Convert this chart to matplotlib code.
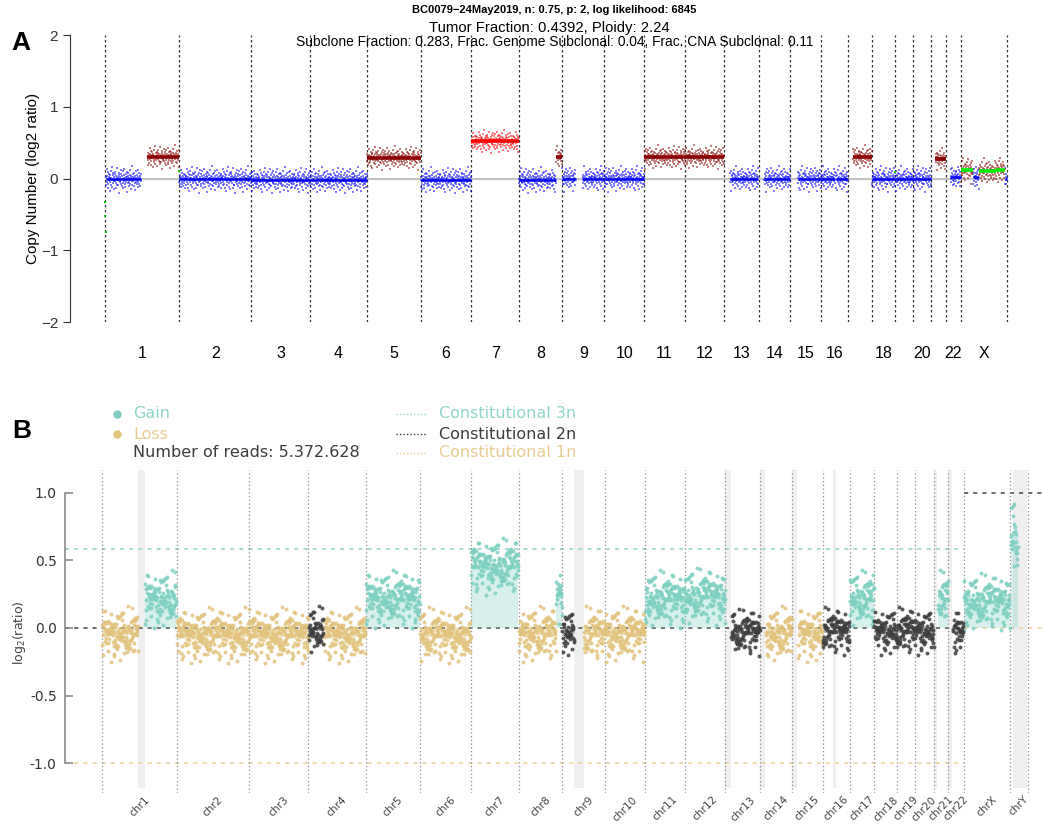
import numpy as np
import matplotlib.pyplot as plt

# chromosome sizes in Mb (hg19)
chrom_names = [str(i) for i in range(1, 23)] + ['X', 'Y']
chrom_len = [249.3, 243.2, 198.0, 191.2, 180.9, 171.1, 159.1, 146.4, 141.2, 135.5,
             135.0, 133.9, 115.2, 107.3, 102.5, 90.4, 81.2, 78.1, 59.1, 63.0,
             48.1, 51.3, 155.3, 59.4]

# residuals of the 1 Mb bins around their segment mean (in sd units)
noise = [0.31, -1.12, 0.58, 1.74, -0.43, 0.05, -0.87, 1.21, -1.65, 0.39,
         0.92, -0.21, -2.08, 0.67, 0.14, -0.55, 1.48, -0.97, 0.26, -0.08,
         2.15, -1.34, 0.73, -0.62, 0.02, 1.06, -0.29, -1.81, 0.48, 0.85,
         -0.38, 1.33, -0.12, -0.74, 0.61, -1.49, 0.19, 1.92, -0.95, 0.34,
         -0.18, -1.07, 0.81, 0.11, -2.41, 1.15, -0.51, 0.44, -0.33, 1.62,
         -0.79, 0.07, 0.96, -1.23, 0.53, -0.04, 1.39, -0.66, -1.58, 0.22,
         0.69, -0.26, 1.87, -0.91, 0.12, -1.38, 0.47, 0.98, -0.58, -0.15,
         1.27, -2.22, 0.36, 0.59, -0.71, 1.03, -0.46, 0.17, -1.16, 0.78,
         -0.09, 1.56, -0.83, 0.28, -1.71, 0.64, 0.01, -0.36, 2.31, -1.02,
         0.42, -0.24, 0.88, -1.28, 0.13, 1.19, -0.68, -0.02, 0.55, -1.94,
         1.41, -0.41, 0.24, -0.89, 0.76, -0.11, 1.68, -1.45, 0.33, -0.57,
         0.09, 1.11, -0.77, -1.19, 0.51, 0.27, -0.31, 1.01, -0.64, 0.83,
         -1.52, 0.18, -0.03]

# panel A: ichorCNA segments (chrom, start Mb, end Mb, log2 ratio, call)
seg_a_chrom = ['1', '1', '2', '3', '4', '5', '6', '7', '8', '8', '9', '9', '10', '11', '12',
               '13', '14', '15', '16', '16', '17', '18', '19', '20', '21', '22',
               'X', 'X', 'X', 'X', 'X']
seg_a_start = [3, 143, 0, 0, 0, 0, 0, 0, 0, 125, 0, 68, 0, 0, 0,
               19, 19, 24, 0, 50, 17, 0, 0, 0, 14, 16,
               0, 40, 60, 118, 148]
seg_a_end = [121, 249, 243, 198, 191, 181, 171, 159, 125, 146, 45, 141, 135, 135, 134,
             115, 107, 102, 48, 90, 81, 78, 59, 63, 48, 51,
             40, 60, 118, 148, 155]
seg_a_level = [-0.01, 0.30, -0.01, -0.02, -0.02, 0.29, -0.02, 0.52, -0.02, 0.30, 0.0, 0.0, 0.0, 0.30, 0.30,
               0.0, 0.0, 0.0, 0.0, 0.0, 0.30, 0.0, 0.0, 0.0, 0.27, 0.02,
               0.12, 0.02, 0.10, 0.12, 0.0]
seg_a_call = ['neut', 'gain', 'neut', 'neut', 'neut', 'gain', 'neut', 'amp', 'neut', 'gain', 'neut', 'neut',
              'neut', 'gain', 'gain', 'neut', 'neut', 'neut', 'neut', 'neut', 'gain', 'neut', 'neut', 'neut',
              'gain', 'neut', 'sub', 'neut', 'sub', 'sub', 'neut']

# subclonal single bins
out_a_chrom = ['1', '1', '1', '1', '18']
out_a_pos = [0.5, 1.5, 2.5, 248.5, 77.5]
out_a_val = [-0.33, -0.52, -0.74, 0.10, 0.09]

# panel B: segments (chrom, start Mb, end Mb, log2 ratio, call)
seg_b_chrom = ['1', '1', '2', '3', '4', '4', '5', '6', '7', '8', '8', '9', '9', '10', '11', '12',
               '13', '14', '15', '16', '17', '18', '19', '20', '21', '22', 'X', 'Y']
seg_b_start = [0, 143, 0, 0, 0, 50, 0, 0, 0, 0, 125, 0, 71, 0, 0, 0,
               19, 19, 20, 0, 0, 0, 0, 0, 14, 16, 0, 2]
seg_b_end = [121, 249, 243, 198, 50, 191, 181, 171, 159, 125, 146, 39, 141, 135, 135, 134,
             115, 107, 102, 90, 81, 78, 59, 63, 48, 51, 155, 26]
seg_b_level = [-0.04, 0.22, -0.05, -0.05, -0.01, -0.05, 0.22, -0.05, 0.46, -0.04, 0.25, -0.03, -0.04,
               -0.04, 0.22, 0.24, -0.03, -0.04, -0.04, -0.02, 0.22, -0.02, -0.02, -0.02, 0.22, -0.03,
               0.20, 0.68]
seg_b_call = ['loss', 'gain', 'loss', 'loss', 'neut', 'loss', 'gain', 'loss', 'gain', 'loss', 'gain',
              'neut', 'loss', 'loss', 'gain', 'gain', 'neut', 'loss', 'loss', 'neut', 'gain', 'neut',
              'neut', 'neut', 'gain', 'neut', 'gain', 'gain']

# unmappable / heterochromatin blocks shown in panel B
gap_chrom = ['1', '9', '13', '14', '15', '16', '21', '22', 'Y']
gap_start = [121, 39, 0, 0, 0, 36, 0, 0, 10]
gap_end = [143, 71, 17, 17, 18, 46, 12, 14, 58]

offset = dict(zip(chrom_names, np.concatenate([[0], np.cumsum(chrom_len)[:-1]])))
mids = {c: offset[c] + l / 2 for c, l in zip(chrom_names, chrom_len)}
genome_a = sum(chrom_len[:23])
genome_b = sum(chrom_len)


def bins(chroms, starts, ends, levels, calls, sd, step, shift):
    xs, ys, cs = [], [], []
    k = 0
    for c, s, e, lv, cl in zip(chroms, starts, ends, levels, calls):
        for p in np.arange(s + 0.5, e, 1.0):
            xs.append(offset[c] + p)
            ys.append(lv + sd[cl] * noise[(k * step + shift) % len(noise)])
            cs.append(cl)
            k += 1
    return np.array(xs), np.array(ys), np.array(cs)


fig = plt.figure(figsize=(10.43, 8.26), dpi=100)
W, H = 1043, 826
arial = ['Liberation Sans', 'DejaVu Sans']

# ---------------- panel A ----------------
axA = fig.add_axes([70 / W, 1 - 322 / H, (1012 - 70) / W, 287 / H])
scale_a = (1007 - 105) / genome_a
axA.set_xlim(-35 / scale_a, (1012 - 105) / scale_a)
axA.set_ylim(-2, 2)

pt_col = {'neut': '#0000ff', 'gain': '#8b0000', 'amp': '#ff0000', 'sub': '#8b0000'}
ln_col = {'neut': '#0000ff', 'gain': '#8b0000', 'amp': '#ff0000', 'sub': '#00ee00'}
ln_w = {'neut': 1.8, 'gain': 2.6, 'amp': 2.6, 'sub': 2.6}
sd_a = {'neut': 0.078, 'gain': 0.07, 'amp': 0.07, 'sub': 0.08}

axA.hlines(0, 0, genome_a, color='#c4c4c4', lw=1.6, zorder=1)
bounds_a = [offset[c] for c in chrom_names[:23]] + [genome_a]
axA.vlines(bounds_a, -2, 2, color='#333333', lw=0.9, linestyles=(0, (2, 2)), zorder=1)

xa, ya, ca = bins(seg_a_chrom, seg_a_start, seg_a_end, seg_a_level, seg_a_call, sd_a, 1, 0)
for cl in ['neut', 'gain', 'amp', 'sub']:
    m = ca == cl
    axA.scatter(xa[m], ya[m], s=4, marker='s', color=pt_col[cl], alpha=0.5, lw=0, zorder=2)
ox = [offset[c] + p for c, p in zip(out_a_chrom, out_a_pos)]
axA.scatter(ox, out_a_val, s=4, marker='s', color='#00cc00', lw=0, zorder=3)
for c, s, e, lv, cl in zip(seg_a_chrom, seg_a_start, seg_a_end, seg_a_level, seg_a_call):
    axA.hlines(lv, offset[c] + s, offset[c] + e, color=ln_col[cl], lw=ln_w[cl], zorder=4)

for sp in ['top', 'right', 'bottom']:
    axA.spines[sp].set_visible(False)
axA.spines['left'].set_bounds(-2, 2)
axA.spines['left'].set_color('#333333')
axA.set_yticks([-2, -1, 0, 1, 2])
axA.tick_params(axis='y', length=5, colors='#333333', labelsize=11)
for t in axA.get_yticklabels():
    t.set_family(arial)
shown_a = [str(i) for i in range(1, 17)] + ['18', '20', '22', 'X']
axA.set_xticks([mids[c] for c in shown_a])
axA.set_xticklabels(shown_a, family=arial, fontsize=11.5)
axA.tick_params(axis='x', length=0, pad=17)

fig.text(33 / W, 1 - 178 / H, 'Copy Number (log2 ratio)', rotation=90, ha='center', va='center',
         family=arial, fontsize=11)
fig.text(554 / W, 1 - 10 / H, 'BC0079\u221224May2019, n: 0.75, p: 2, log likelihood: 6845',
         ha='center', va='center', family=arial, fontsize=8, fontweight='bold')
fig.text(549 / W, 1 - 28 / H, 'Tumor Fraction: 0.4392, Ploidy: 2.24',
         ha='center', va='center', family=arial, fontsize=10.7)
fig.text(555 / W, 1 - 42 / H,
         'Subclone Fraction: 0.283, Frac. Genome Subclonal: 0.04, Frac. CNA Subclonal: 0.11',
         ha='center', va='center', family=arial, fontsize=9.9)
fig.text(21 / W, 1 - 43 / H, 'A', ha='center', va='center', family=arial, fontsize=19, fontweight='bold')
fig.text(22 / W, 1 - 431 / H, 'B', ha='center', va='center', family=arial, fontsize=19, fontweight='bold')

# ---------------- panel B ----------------
axB = fig.add_axes([65 / W, 1 - 793 / H, (1043 - 65) / W, (793 - 470) / H])
scale_b = (1010 - 102) / genome_a
axB.set_xlim(-37 / scale_b, (1043 - 102) / scale_b)
axB.set_ylim(-1.222, 1.17)

teal, tan, dark = '#7dcfc1', '#e3c27d', '#3d3d3d'
pt_b = {'gain': teal, 'loss': tan, 'neut': dark}
seg_line_b = {'gain': '#bfe8e1', 'loss': '#f1e0bd', 'neut': '#a8a8a8'}
sd_b = {'gain': 0.09, 'loss': 0.088, 'neut': 0.075}

for c, s, e in zip(gap_chrom, gap_start, gap_end):
    axB.axvspan(offset[c] + s, offset[c] + e, ymin=0.015, ymax=1, color='#efefef', lw=0, zorder=0)

x0, x1 = axB.get_xlim()
x_end = offset['X']
dash = (0, (2.5, 3))
axB.hlines(np.log2(1.5), x0, x_end, color='#9ed6cc', lw=1.2, linestyles=dash, zorder=1)
axB.hlines(0, x0, x_end, color='#555555', lw=1.2, linestyles=dash, zorder=1)
axB.hlines(-1, x0, x_end, color='#edd3a4', lw=1.2, linestyles=dash, zorder=1)
axB.hlines(1, x_end, x1, color='#555555', lw=1.2, linestyles=dash, zorder=1)
axB.hlines(0, x_end, x1, color='#edd3a4', lw=1.2, linestyles=dash, zorder=1)

bounds_b = [offset[c] for c in chrom_names] + [genome_b]
axB.vlines(bounds_b, -1.222, 1.17, color='#8a8a8a', lw=0.9, linestyles=(0, (1, 2)), zorder=1)

for c, s, e, lv, cl in zip(seg_b_chrom, seg_b_start, seg_b_end, seg_b_level, seg_b_call):
    if cl != 'neut':
        axB.fill_between([offset[c] + s, offset[c] + e], 0, lv, color=pt_b[cl], alpha=0.3, lw=0, zorder=1)

xb, yb, cb = bins(seg_b_chrom, seg_b_start, seg_b_end, seg_b_level, seg_b_call, sd_b, 5, 17)
yb = np.where(xb > offset['Y'], seg_b_level[-1] + (yb - seg_b_level[-1]) * 1.5, yb)
for c, s, e, lv, cl in zip(seg_b_chrom, seg_b_start, seg_b_end, seg_b_level, seg_b_call):
    axB.hlines(lv, offset[c] + s, offset[c] + e, color=seg_line_b[cl], lw=2, zorder=2)
for cl in ['loss', 'gain', 'neut']:
    m = cb == cl
    axB.scatter(xb[m], yb[m], s=8, color=pt_b[cl], alpha=0.85, lw=0, zorder=3)

for sp in ['top', 'right', 'bottom']:
    axB.spines[sp].set_visible(False)
axB.spines['left'].set_bounds(-1, 1)
axB.spines['left'].set_color('#8a8a8a')
axB.spines['left'].set_linewidth(1.2)
axB.set_yticks([-1, -0.5, 0, 0.5, 1])
axB.set_yticklabels(['-1.0', '-0.5', '0.0', '0.5', '1.0'], fontsize=10, color='#333333')
axB.tick_params(axis='y', direction='in', length=6, width=1.2, color='#8a8a8a', pad=6)
axB.set_xticks([mids[c] for c in chrom_names])
axB.set_xticklabels(['chr' + c for c in chrom_names], rotation=45, fontsize=7.6, color='#444444')
axB.tick_params(axis='x', length=0, pad=1)
fig.text(20 / W, 1 - 633 / H, 'log$_2$(ratio)', rotation=90, ha='center', va='center',
         fontsize=9, color='#444444')

# legend of panel B
for yy, col in [(414, teal), (434, tan)]:
    fig.lines.append(plt.Line2D([117 / W], [1 - yy / H], marker='o', ms=5, color=col, lw=0,
                                transform=fig.transFigure))
fig.text(133 / W, 1 - 414 / H, 'Gain', va='center', fontsize=11.5, color='#8fd6ca')
fig.text(133 / W, 1 - 434 / H, 'Loss', va='center', fontsize=11.5, color='#e8cc90')
fig.text(133 / W, 1 - 453 / H, 'Number of reads: 5.372.628', va='center', fontsize=11.5, color='#3d3d3d')
for yy, col, txt in [(414, '#8fd6ca', 'Constitutional 3n'), (434, '#3d3d3d', 'Constitutional 2n'),
                     (453, '#e8cc90', 'Constitutional 1n')]:
    fig.lines.append(plt.Line2D([396 / W, 427 / W], [1 - yy / H] * 2, color=col, lw=1,
                                linestyle=(0, (1, 1.5)), transform=fig.transFigure))
    fig.text(439 / W, 1 - yy / H, txt, va='center', fontsize=11.5, color=col)

fig.savefig('out.png', dpi=100)
